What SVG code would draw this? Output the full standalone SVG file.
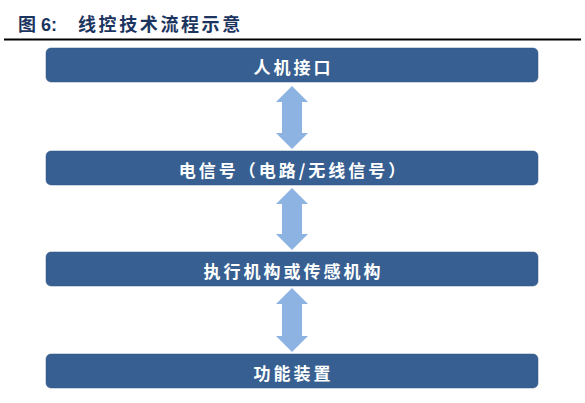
<svg xmlns="http://www.w3.org/2000/svg" width="585" height="403" viewBox="0 0 585 403">
<style>
.title{font-family:"Liberation Sans","Noto Sans CJK SC",sans-serif;font-size:18px;font-weight:bold;fill:#1c3560}
.box{fill:#375f91;stroke:#2f5584;stroke-width:0.5}
.lbl{font-family:"Noto Sans CJK SC",sans-serif;font-size:17px;font-weight:bold;fill:#ffffff;text-anchor:middle;letter-spacing:3px}
.arr{fill:#8db3e2}
</style>
<rect width="585" height="403" fill="#ffffff"/>
<text class="title" y="31"><tspan x="18">图</tspan><tspan x="41">6:</tspan><tspan x="78" letter-spacing="2.6">线控技术流程示意</tspan></text>
<line x1="4" y1="39.5" x2="581" y2="39.5" stroke="#000" stroke-width="2"/>
<g id="connectors">
<polygon class="arr" points="292,86 308,102 302,102 302,133 308,133 292,149 276,133 282,133 282,102 276,102"/>
<polygon class="arr" points="292,188 308,204 302,204 302,234 308,234 292,250 276,234 282,234 282,204 276,204"/>
<polygon class="arr" points="292,288 308,304 302,304 302,336 308,336 292,352 276,336 282,336 282,304 276,304"/>
</g>
<g id="n1"><rect class="box" x="46" y="48" width="492" height="34" rx="5"/><text class="lbl" x="293.5" y="74">人机接口</text></g>
<g id="n2"><rect class="box" x="46" y="151" width="492" height="34" rx="5"/><text class="lbl" x="293.5" y="177">电信号（电路/无线信号）</text></g>
<g id="n3"><rect class="box" x="46" y="252" width="492" height="34" rx="5"/><text class="lbl" x="293.5" y="278">执行机构或传感机构</text></g>
<g id="n4"><rect class="box" x="46" y="354" width="492" height="34" rx="5"/><text class="lbl" x="293.5" y="380">功能装置</text></g>
</svg>
